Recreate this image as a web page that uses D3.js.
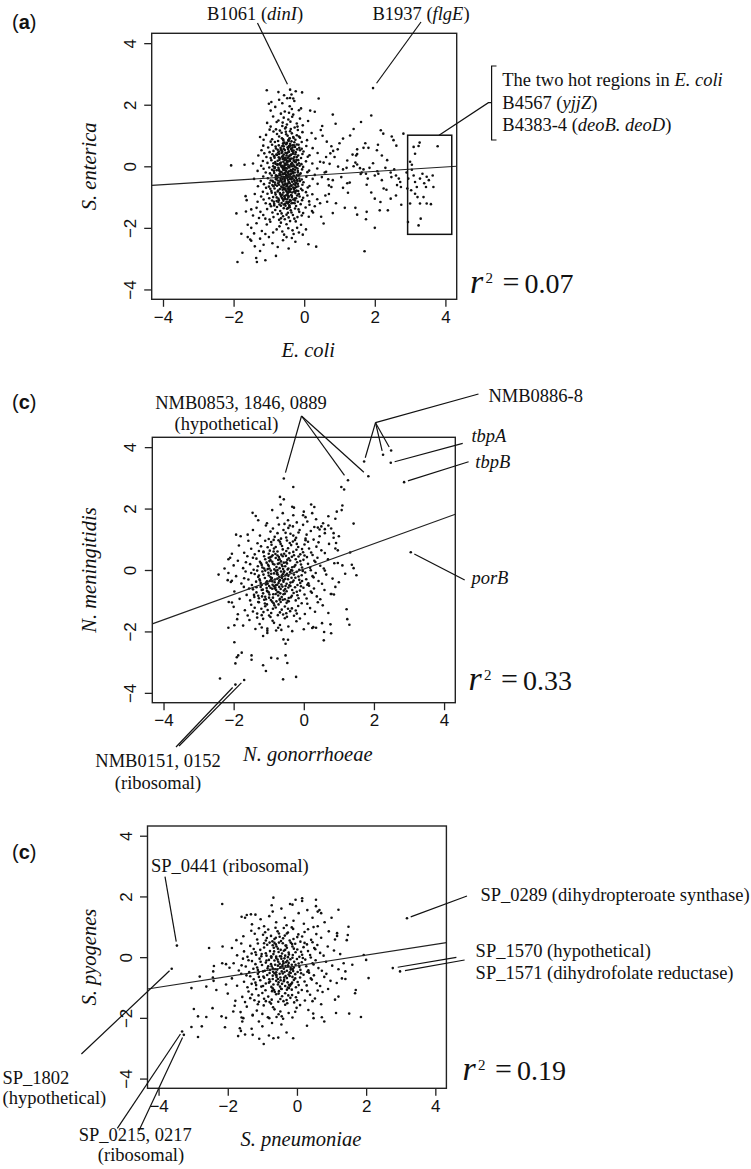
<!DOCTYPE html>
<html><head><meta charset="utf-8">
<script src="https://cdn.jsdelivr.net/npm/d3@7"></script>
<style>body{margin:0;background:#fff}svg{display:block}</style>
</head><body>
<script>
// ---------------- DATA ----------------
const tickValues = [-4, -2, 0, 2, 4];
const axisLimits = [-4.32, 4.32];
const panelLetters = ["a", "c", "c"];
const xTitles = ["E. coli", "N. gonorrhoeae", "S. pneumoniae"];
const yTitles = ["S. enterica", "N. meningitidis", "S. pyogenes"];
const r2Labels = ["0.07", "0.33", "0.19"];
const fitIntercepts = [-0.31, 0.03, -0.285];
const fitSlopes = [0.072, 0.413, 0.177];
const hotRegionBox = [2.93, 4.18, -2.21, 1.01]; // x0,x1,y0,y1

// Panel (a): E. coli vs S. enterica
const pointsEcoli = [
[-0.62,2.05],[-0.35,1.86],[-0.48,2.21],[-0.15,1.82],[-0.82,1.93],[-0.28,2.12],[-0.55,1.78],[-0.41,1.95],[-0.71,2.16],[-0.09,1.88],[-0.36,2.33],[-0.95,1.81],
[-0.45,1.52],[-0.62,1.31],[-0.31,1.68],[-0.78,1.44],[-0.52,1.27],[-0.21,1.39],[-0.88,1.62],[-0.39,1.45],[-0.66,1.71],[-0.12,1.55],[-0.49,1.36],[-0.95,1.29],[-0.27,1.26],[-0.58,1.58],[-0.04,1.33],[-0.73,1.49],[-0.34,1.61],[-1.05,1.41],[-0.43,1.74],[0.11,1.47],[-0.61,1.42],[-0.19,1.29],
[-0.52,1.12],[-0.31,0.95],[-0.77,1.05],[-0.44,0.82],[-0.63,0.91],[-0.18,1.18],[-0.91,0.88],[-0.38,1.21],[-0.56,0.77],[-0.25,0.86],[-1.08,1.02],[-0.47,0.99],[-0.69,1.16],[-0.12,0.93],[-0.83,0.79],[-0.35,1.07],[-0.59,0.84],[-0.05,1.11],[-0.98,1.19],[-0.42,0.9],[-0.71,0.97],[-0.28,0.78],[-0.54,1.23],[0.08,0.85],[-1.15,0.86],[-0.36,0.81],[-0.64,1.09],[-0.21,1.01],[-0.87,1.13],[-0.49,0.76],[-0.15,0.97],[-0.74,0.82],[0.21,1.08],[-0.4,1.14],[-0.6,0.88],[-1.25,0.95],[-0.3,0.92],[-0.95,0.8],[-0.07,0.79],[-0.51,1.04],[0.32,0.9],[-0.8,1.2],
[-0.47,0.62],[-0.32,0.41],[-0.66,0.55],[-0.21,0.71],[-0.85,0.33],[-0.53,0.28],[-0.39,0.67],[-0.74,0.45],[-0.12,0.52],[-1.02,0.61],[-0.58,0.38],[-0.28,0.3],[-0.91,0.7],[-0.44,0.49],[-0.69,0.26],[-0.05,0.4],[-0.36,0.57],[-0.8,0.58],[-0.51,0.72],[-0.17,0.35],[-1.13,0.42],[-0.62,0.47],[-0.26,0.63],[-0.95,0.27],[-0.42,0.34],[0.06,0.66],[-0.72,0.68],[-0.55,0.53],[-0.31,0.25],[-1.21,0.52],[-0.48,0.43],[-0.14,0.6],[-0.87,0.5],[-0.63,0.31],[-0.24,0.46],[0.15,0.36],[-0.4,0.73],[-0.77,0.37],[-0.58,0.65],[-1.07,0.3],[-0.34,0.5],[-0.09,0.27],[-0.67,0.6],[-0.45,0.29],[-0.98,0.46],[-0.2,0.55],[0.24,0.59],[-0.53,0.44],[-0.81,0.64],[-0.37,0.38],[-0.6,0.74],[-0.29,0.68],[-1.3,0.35],[-0.71,0.4],[-0.46,0.56],[-0.02,0.48],[-0.9,0.39],[-0.57,0.26],[-0.16,0.7],[0.38,0.43],[-0.64,0.52],[-0.43,0.66],[-0.84,0.28],[-0.25,0.39],[-1.16,0.67],[-0.5,0.35],[-0.33,0.61],[0.1,0.31],[-0.75,0.54],[-0.07,0.57],
[-0.49,0.12],[-0.31,-0.08],[-0.68,0.05],[-0.22,0.21],[-0.86,-0.15],[-0.54,-0.22],[-0.4,0.17],[-0.73,-0.05],[-0.13,0.02],[-1.04,0.11],[-0.59,-0.12],[-0.27,-0.2],[-0.93,0.2],[-0.45,-0.01],[-0.7,-0.24],[-0.06,-0.1],[-0.37,0.07],[-0.81,0.08],[-0.52,0.22],[-0.18,-0.15],[-1.15,-0.08],[-0.63,-0.03],[-0.25,0.13],[-0.97,-0.23],[-0.43,-0.16],[0.05,0.16],[-0.75,0.18],[-0.56,0.03],[-0.32,-0.19],[-1.22,0.02],[-0.48,-0.07],[-0.15,0.1],[-0.88,0.0],[-0.64,-0.19],[-0.23,-0.04],[0.14,-0.14],[-0.41,0.23],[-0.78,-0.13],[-0.59,0.15],[-1.09,-0.2],[-0.35,0.0],[-0.1,-0.23],[-0.68,0.1],[-0.46,-0.21],[-0.99,-0.04],[-0.2,0.05],[0.23,0.09],[-0.54,-0.06],[-0.82,0.14],[-0.38,-0.12],[-0.61,0.24],[-0.29,0.18],[-1.32,-0.15],[-0.72,-0.1],[-0.47,0.06],[-0.03,-0.02],[-0.91,-0.11],[-0.58,-0.24],[-0.17,0.2],[0.37,-0.07],[-0.65,0.01],[-0.44,0.16],[-0.85,-0.22],[-0.26,-0.11],[-1.17,0.17],[-0.51,-0.15],[-0.34,0.11],[0.09,-0.19],[-0.76,0.04],[-0.08,0.07],[-0.42,-0.04],[-0.6,-0.09],[-0.3,0.03],[-0.5,0.19],[-0.7,0.21],[-0.19,-0.07],[0.45,0.15],[-1.45,0.09],[-0.83,-0.03],[-0.37,-0.24],[-0.55,0.09],[0.62,-0.18],
[-0.48,-0.38],[-0.3,-0.58],[-0.67,-0.45],[-0.21,-0.29],[-0.87,-0.65],[-0.53,-0.72],[-0.39,-0.33],[-0.74,-0.55],[-0.12,-0.48],[-1.03,-0.39],[-0.58,-0.62],[-0.26,-0.7],[-0.92,-0.3],[-0.44,-0.51],[-0.69,-0.74],[-0.05,-0.6],[-0.36,-0.43],[-0.8,-0.42],[-0.51,-0.28],[-0.17,-0.65],[-1.14,-0.58],[-0.62,-0.53],[-0.24,-0.37],[-0.96,-0.73],[-0.42,-0.66],[0.06,-0.34],[-0.76,-0.32],[-0.55,-0.47],[-0.31,-0.69],[-1.23,-0.48],[-0.47,-0.57],[-0.14,-0.4],[-0.88,-0.5],[-0.63,-0.69],[-0.23,-0.54],[0.15,-0.64],[-0.4,-0.27],[-0.77,-0.63],[-0.58,-0.35],[-1.08,-0.7],[-0.34,-0.5],[-0.09,-0.73],[-0.67,-0.4],[-0.45,-0.71],[-0.98,-0.54],[-0.2,-0.45],[0.24,-0.41],[-0.53,-0.56],[-0.81,-0.36],[-0.37,-0.62],[-0.6,-0.26],[-0.29,-0.32],[-1.31,-0.65],[-0.71,-0.6],[-0.46,-0.44],[-0.02,-0.52],[-0.9,-0.61],[-0.57,-0.74],[-0.16,-0.3],[0.38,-0.57],[-0.64,-0.48],[-0.43,-0.34],[-0.84,-0.72],[-0.25,-0.61],[-1.16,-0.33],[-0.5,-0.65],[-0.33,-0.39],[0.1,-0.69],[-0.75,-0.46],[-0.07,-0.43],[-0.41,-0.55],[-0.6,-0.59],[-0.28,-0.47],[-0.5,-0.31],[-0.7,-0.29],[-0.18,-0.57],[0.5,-0.35],[-1.42,-0.41],[-0.83,-0.53],[-0.37,-0.74],[-0.55,-0.41],[0.7,-0.62],[-0.95,-0.46],[0.3,-0.28],[-1.0,-0.66],
[-0.47,-0.88],[-0.31,-1.08],[-0.66,-0.95],[-0.22,-0.79],[-0.86,-1.15],[-0.54,-1.22],[-0.4,-0.83],[-0.73,-1.05],[-0.13,-0.98],[-1.04,-0.89],[-0.59,-1.12],[-0.27,-1.2],[-0.93,-0.8],[-0.45,-1.01],[-0.7,-1.24],[-0.06,-1.1],[-0.37,-0.93],[-0.81,-0.92],[-0.52,-0.78],[-0.18,-1.15],[-1.15,-1.08],[-0.63,-1.03],[-0.25,-0.87],[-0.97,-1.23],[-0.43,-1.16],[0.05,-0.84],[-0.75,-0.82],[-0.56,-0.97],[-0.32,-1.19],[-1.22,-0.98],[-0.48,-1.07],[-0.15,-0.9],[-0.88,-1.0],[-0.64,-1.19],[-0.23,-1.04],[0.14,-1.14],[-0.41,-0.77],[-0.78,-1.13],[-0.59,-0.85],[-1.09,-1.2],[-0.35,-1.0],[-0.1,-1.23],[-0.68,-0.9],[-0.46,-1.21],[-0.99,-1.04],[-0.2,-0.95],[0.23,-0.91],[-0.54,-1.06],[-0.82,-0.86],[-0.38,-1.12],[-0.61,-0.76],[-0.29,-0.82],[-1.32,-1.15],[-0.72,-1.1],[-0.47,-0.94],[-0.03,-1.02],[-0.91,-1.11],[-0.58,-1.24],[-0.17,-0.8],[0.37,-1.07],[-0.65,-0.98],[-0.44,-0.84],[-0.85,-1.22],[-0.26,-1.11],[-1.17,-0.83],[-0.5,-1.15],[0.6,-0.95],[-1.4,-0.9],[0.45,-1.2],[-0.05,-0.78],
[-0.49,-1.38],[-0.32,-1.58],[-0.68,-1.45],[-0.23,-1.29],[-0.87,-1.65],[-0.55,-1.72],[-0.41,-1.33],[-0.75,-1.55],[-0.14,-1.48],[-1.05,-1.39],[-0.6,-1.62],[-0.28,-1.7],[-0.94,-1.3],[-0.46,-1.51],[-0.71,-1.74],[-0.07,-1.6],[-0.38,-1.43],[-0.82,-1.42],[-0.53,-1.28],[-0.19,-1.65],[-1.16,-1.58],[-0.64,-1.53],[-0.26,-1.37],[-0.98,-1.73],[-0.44,-1.66],[0.04,-1.34],[-0.77,-1.32],[-1.24,-1.48],[-0.5,-1.57],[-0.16,-1.4],[-0.9,-1.5],[-0.66,-1.69],[0.13,-1.64],[-0.42,-1.27],[-1.1,-1.7],[-0.36,-1.5],[-1.35,-1.35],[-1.45,-1.6],[0.22,-1.45],[-0.58,-1.36],[-0.85,-1.27],[-1.28,-1.68],[-0.03,-1.52],[-1.5,-1.4],[0.3,-1.3],
[-0.5,-1.88],[-0.33,-2.08],[-0.7,-1.95],[-0.24,-1.79],[-0.88,-2.15],[-0.57,-2.22],[-1.06,-1.89],[-0.62,-2.12],[-0.3,-2.2],[-0.96,-1.8],[-0.45,-2.01],[-1.2,-2.1],[-0.09,-1.9],[-1.35,-1.85],[-0.78,-2.05],[-0.15,-2.15],[-1.5,-2.0],[-1.1,-2.2],[-0.4,-1.78],[-1.6,-1.9],[-0.66,-1.83],[0.05,-2.05],[-1.42,-2.18],[-0.2,-2.0],
[-1.25,-2.35],[-0.9,-2.5],[-1.5,-2.42],[-0.6,-2.4],[-1.0,-2.3],[-0.25,-2.45],[-1.4,-2.6],[-0.75,-2.62],[-1.15,-2.55],[-0.5,-2.3],[-1.6,-2.3],[-0.35,-2.33],
[-0.44,-0.27],[-0.52,0.05],[-0.36,-0.63],[-0.61,-0.41],[-0.29,0.19],[-0.47,-0.85],[-0.68,-0.18],[-0.39,0.36],[-0.55,-1.02],[-0.23,-0.38],[-0.72,0.29],[-0.43,-0.5],[-0.33,-0.12],[-0.58,0.57],[-0.49,-1.18],[-0.26,-0.81],[-0.65,-0.66],[-0.41,0.02],[-0.8,-0.29],[-0.35,-0.96],[-0.5,0.42],[-0.62,-0.92],[-0.18,-0.2],[-0.46,-0.34],[-0.74,-0.79],[-0.3,0.51],[-0.57,-0.24],[-0.4,-1.1],[-0.66,0.12],[-0.22,-0.67],[-0.53,-0.58],[-0.37,0.25],[-0.84,-0.06],[-0.45,-0.76],[-0.28,-0.45],[-0.6,0.33],[-0.5,-0.3],[-0.7,-0.5],[-0.32,-0.22],[-0.42,0.62],[-0.55,-0.13],[-0.2,0.06],[-0.78,-1.01],[-0.48,0.16],[-0.64,-0.33],[-0.34,-0.85],[-0.59,0.74],[-0.27,-1.05],[-0.71,0.48],[-0.44,-0.97],
[-0.38,-0.16],[-0.56,-0.49],[-0.31,0.44],[-0.69,-0.87],[-0.47,0.27],[-0.25,-0.53],[-0.63,0.02],[-0.42,-1.29],[-0.76,-0.38],[-0.34,0.09],[-0.58,-0.7],[-0.21,0.3],[-0.51,-0.94],[-0.87,0.1],[-0.4,-0.41],[-0.62,0.66],[-0.3,-0.3],[-0.73,-1.16],[-0.45,0.85],[-0.16,-0.9],[-0.54,-0.35],[-0.36,-1.2],[-0.67,-0.27],[-0.43,0.47],[-0.79,0.38],[-0.27,-0.01],[-0.6,-1.07],[-0.49,-0.63],[-0.33,0.68],[-0.9,-0.47],[-0.52,-0.06],[-0.39,-0.72],[-0.71,-0.14],[-0.24,0.15],[-0.56,0.21],[-0.46,-1.36],[-0.82,-0.6],[-0.35,-0.35],[-0.64,0.43],[-0.19,-0.48],[-0.5,-0.82],[-0.41,0.91],[-0.75,0.07],[-0.29,-0.74],[-0.57,-0.02],[-0.66,-1.28],[-0.37,0.55],[-0.47,-0.2],[-0.92,-0.86],[-0.13,-0.27],
[-2.07,0.03],[-1.69,0.05],[-1.89,-3.11],[-1.75,-2.81],[-1.34,-3.11],[-1.36,-2.98],[-1.25,-2.75],[-1.1,-3.05],[-0.8,-2.91],[-0.44,-2.67],[0.34,-2.61],[0.12,-2.53],[-0.04,-2.22],[-1.78,-2.19],[-1.92,-1.53],[-1.65,-1.47],[-1.66,-0.97],[-1.63,-1.1],[-1.53,-2.38],
[-1.06,2.47],[-0.73,2.41],[-0.40,2.49],[-0.24,2.44],[-0.06,2.4],[-0.57,2.31],[0.41,2.2],[-0.4,2.22],[-0.31,2.2],[-1.0,2.03],[-0.93,2.09],[0.17,1.81],[0.3,1.77],
[1.95,2.54],
[0.81,1.68],[0.89,1.38],[1.61,1.44],[1.9,1.65],[1.4,1.21],[2.17,1.17],[2.24,1.06],[2.48,0.97],[2.81,1.06],[2.53,0.85],[2.61,0.67],[2.09,0.7],[2.06,0.52],[1.73,0.75],[1.82,0.6],[1.68,0.6],[1.5,0.55],[1.5,0.4],[1.37,0.38],[1.47,0.35],[1.22,0.19],[1.1,0.9],[0.51,1.31],[0.47,1.18],[0.52,0.99],[0.64,0.8],[0.77,0.65],[0.82,0.5],[0.74,0.42],[0.86,0.3],[0.62,0.3],[1.4,0.0],[1.45,0.12],[1.5,0.06],[1.58,-0.06],[1.63,-0.2],[1.68,-0.1],[1.6,-0.25],[1.75,-0.24],[1.8,-0.4],[1.77,-0.6],[2.1,-0.24],[2.0,-0.3],[2.07,-0.16],[2.2,-0.45],[2.25,-0.72],[2.33,-0.76],[2.0,-1.05],[2.16,-1.16],[2.37,-1.43],[2.14,-1.43],[2.0,-2.0],[1.71,-2.76],[1.45,-1.35],[1.5,-1.57],[1.75,-1.72],[1.77,-1.48],[1.1,-0.7],[1.24,-0.86],[1.29,-0.53],[1.05,-0.35],[1.22,-0.55],[0.81,-1.52],[0.55,-1.86],[0.48,-1.64],[0.25,-1.5],[0.15,-1.25],[0.09,-0.95],[0.77,-0.67],[0.81,-0.45],[1.1,-0.1],[0.96,-0.01],[1.2,-0.05],[2.6,-0.3],[2.68,-0.4],[2.72,-0.51],[2.63,-0.61],[2.74,-0.67],[2.9,-0.2],[2.95,-0.4],[2.92,-0.72],[2.3,-0.05],[2.45,-0.2],[2.47,-0.35],[2.55,-0.1],[2.35,0.2],[2.2,0.35],[1.95,0.1],[1.85,-0.05],[0.95,0.55],[1.0,0.75],[1.3,1.0],[1.9,-0.85],[2.45,-1.05],[2.6,-0.95],[2.75,-1.25],[1.15,-1.35],[0.65,-1.15],[0.7,-0.9],[0.9,-1.2],[0.58,-0.2],[0.72,0.08],[0.55,0.12],[0.68,-0.42],
[3.1,0.63],[3.24,0.66],[3.27,0.77],[3.14,0.41],[3.78,0.65],[3.05,-0.11],[3.1,-0.3],[3.14,-0.51],[3.19,-0.67],[3.28,-0.4],[3.35,-0.24],[3.47,-0.34],[3.64,-0.3],[3.45,-0.67],[3.66,-0.67],[3.14,-0.89],[3.21,-1.0],[3.28,-1.21],[3.47,-1.21],[3.59,-1.23],[3.3,-1.7],[3.24,-1.92],[3.0,-1.21],[2.94,-1.81],[3.03,-0.78],[3.0,0.15],[3.05,0.05],[3.4,-0.55],[3.53,-0.45],[3.38,-1.0]
];

// Panel (c): N. gonorrhoeae vs N. meningitidis
const pointsNeisseria = [
[-0.45,1.62],[-0.2,1.55],[-0.75,1.7],[0.1,1.58],[-1.05,1.52],[-0.6,1.85],[0.35,1.65],[-0.3,1.78],[-1.3,1.62],[0.55,1.52],[-0.9,1.95],[0.0,1.9],[-0.55,1.5],[0.7,1.75],
[-0.52,1.21],[-0.31,1.42],[-0.83,1.08],[-0.12,1.3],[-1.08,1.45],[-0.65,1.02],[0.08,1.15],[-0.44,1.37],[-0.95,1.25],[-0.22,1.05],[0.3,1.4],[-0.71,1.48],[-1.25,1.12],[-0.38,1.18],[-0.02,1.47],[-0.58,1.3],[0.45,1.1],[-0.88,1.35],[-0.15,1.22],[-1.45,1.3],[0.2,1.27],[-0.5,1.06],[-1.0,1.01],[0.6,1.33],[-0.3,1.12],[-0.75,1.2],[0.05,1.02],[-1.6,1.15],[0.85,1.2],[-0.4,1.45],
[-0.62,0.78],[-0.41,0.55],[-0.93,0.91],[-0.21,0.66],[-1.15,0.58],[-0.72,0.97],[0.02,0.83],[-0.5,0.62],[-1.03,0.74],[-0.31,0.93],[0.21,0.57],[-0.81,0.52],[-1.32,0.87],[-0.45,0.71],[-0.1,0.51],[-0.66,0.85],[0.36,0.76],[-0.97,0.63],[-0.25,0.98],[-1.5,0.69],[0.12,0.92],[-0.56,0.53],[-1.1,0.95],[0.5,0.64],[-0.36,0.81],[-0.85,0.7],[-0.05,0.68],[-1.7,0.56],[0.72,0.85],[-0.48,0.96],[-0.75,0.6],[-0.16,0.75],[-1.22,0.77],[0.28,0.99],[-0.6,0.67],[-0.92,0.82],[-0.02,0.58],[-1.4,0.51],[0.42,0.9],[-0.3,0.59],[-1.0,0.53],[-0.68,0.92],[0.15,0.7],[-1.85,0.8],[-0.4,0.88],[0.6,0.55],[-0.86,0.98],[-0.2,0.85],[-1.58,0.95],[0.9,0.7],[-1.28,0.62],[0.05,0.97],
[-0.65,0.28],[-0.44,0.05],[-0.96,0.41],[-0.24,0.16],[-1.18,0.08],[-0.75,0.47],[-0.01,0.33],[-0.53,0.12],[-1.06,0.24],[-0.34,0.43],[0.18,0.07],[-0.84,0.02],[-1.35,0.37],[-0.48,0.21],[-0.13,0.01],[-0.69,0.35],[0.33,0.26],[-1.0,0.13],[-0.28,0.48],[-1.53,0.19],[0.09,0.42],[-0.59,0.03],[-1.13,0.45],[0.47,0.14],[-0.39,0.31],[-0.88,0.2],[-0.08,0.18],[-1.73,0.06],[0.69,0.35],[-0.51,0.46],[-0.78,0.1],[-0.19,0.25],[-1.25,0.27],[0.25,0.49],[-0.63,0.17],[-0.95,0.32],[-0.05,0.08],[-1.43,0.01],[0.39,0.4],[-0.33,0.09],[-1.03,0.03],[-0.71,0.42],[0.12,0.2],[-1.88,0.3],[-0.43,0.38],[0.57,0.05],[-0.89,0.48],[-0.23,0.35],[-1.61,0.45],[0.87,0.22],[-1.31,0.12],[0.02,0.47],[-0.57,0.24],[-0.8,0.39],[-1.2,0.16],[-0.36,0.0],[-0.15,0.44],[-0.98,0.05],[-0.7,0.22],[-0.47,0.33],[-1.1,0.35],[-2.0,0.15],[-0.27,0.11],[0.3,0.3],[-0.6,0.45],[-0.9,0.27],[-1.45,0.4],[-0.1,0.29],[-0.75,0.0],[-1.65,0.25],[1.1,0.15],[-2.1,0.4],
[-0.7,-0.22],[-0.49,-0.45],[-1.01,-0.09],[-0.29,-0.34],[-1.23,-0.42],[-0.8,-0.03],[-0.06,-0.17],[-0.58,-0.38],[-1.11,-0.26],[-0.39,-0.07],[0.13,-0.43],[-0.89,-0.48],[-1.4,-0.13],[-0.53,-0.29],[-0.18,-0.49],[-0.74,-0.15],[0.28,-0.24],[-1.05,-0.37],[-0.33,-0.02],[-1.58,-0.31],[0.04,-0.08],[-0.64,-0.47],[-1.18,-0.05],[0.42,-0.36],[-0.44,-0.19],[-0.93,-0.3],[-0.13,-0.32],[-1.78,-0.44],[0.64,-0.15],[-0.56,-0.04],[-0.83,-0.4],[-0.24,-0.25],[-1.3,-0.23],[0.2,-0.01],[-0.68,-0.33],[-1.0,-0.18],[-0.1,-0.42],[-1.48,-0.49],[0.34,-0.1],[-0.38,-0.41],[-1.08,-0.47],[-0.76,-0.08],[0.07,-0.3],[-1.93,-0.2],[-0.48,-0.12],[0.52,-0.45],[-0.94,-0.02],[-0.28,-0.15],[-1.66,-0.05],[0.82,-0.28],[-1.36,-0.38],[-0.03,-0.03],[-0.62,-0.26],[-0.85,-0.11],[-1.25,-0.34],[-0.41,-0.5],[-0.2,-0.06],[-1.03,-0.45],[-0.75,-0.28],[-0.52,-0.17],[-1.15,-0.15],[-2.05,-0.35],[-0.32,-0.39],[0.25,-0.2],[-0.65,-0.05],[-0.95,-0.23],[-1.5,-0.1],[-0.15,-0.21],[-0.8,-0.5],[-1.7,-0.27],[1.0,-0.4],[-2.15,-0.1],[-0.9,-0.37],[-0.45,-0.3],[-0.6,-0.14],[-1.2,-0.49],[-0.35,-0.25],[0.1,-0.48],[-0.72,-0.42],[-1.33,-0.02],[0.6,-0.02],[-0.05,-0.36],
[-0.75,-0.72],[-0.54,-0.95],[-1.06,-0.59],[-0.34,-0.84],[-1.28,-0.92],[-0.85,-0.53],[-0.11,-0.67],[-0.63,-0.88],[-1.16,-0.76],[-0.44,-0.57],[0.08,-0.93],[-0.94,-0.98],[-1.45,-0.63],[-0.58,-0.79],[-0.23,-0.99],[-0.79,-0.65],[0.23,-0.74],[-1.1,-0.87],[-0.38,-0.52],[-1.63,-0.81],[-0.01,-0.58],[-0.69,-0.97],[-1.23,-0.55],[0.37,-0.86],[-0.49,-0.69],[-0.98,-0.8],[-0.18,-0.82],[-1.83,-0.94],[0.59,-0.65],[-0.61,-0.54],[-0.88,-0.9],[-0.29,-0.75],[-1.35,-0.73],[0.15,-0.51],[-0.73,-0.83],[-1.05,-0.68],[-0.15,-0.92],[-1.53,-0.99],[0.29,-0.6],[-0.43,-0.91],[-1.13,-0.97],[-0.81,-0.58],[0.02,-0.8],[-1.98,-0.7],[-0.53,-0.62],[0.47,-0.95],[-0.99,-0.52],[-0.33,-0.65],[-1.71,-0.55],[0.77,-0.78],[-1.41,-0.88],[-0.08,-0.53],[-0.67,-0.76],[-0.9,-0.61],[-1.3,-0.84],[-0.46,-1.0],[-0.25,-0.56],[-1.08,-0.95],[-0.8,-0.78],[-0.57,-0.67],[-1.2,-0.65],[-0.37,-0.89],[0.2,-0.7],[-0.7,-0.55],[-1.0,-0.73],[-1.56,-0.6],[-0.2,-0.71],[0.9,-0.55],
[-0.8,-1.22],[-0.59,-1.45],[-1.11,-1.09],[-0.39,-1.34],[-1.33,-1.42],[-0.9,-1.03],[-0.16,-1.17],[-0.68,-1.38],[-1.21,-1.26],[-0.49,-1.07],[0.03,-1.43],[-0.99,-1.48],[-1.5,-1.13],[-0.63,-1.29],[-0.28,-1.49],[-0.84,-1.15],[0.18,-1.24],[-1.15,-1.37],[-0.43,-1.02],[-1.68,-1.31],[-0.06,-1.08],[-0.74,-1.47],[-1.28,-1.05],[0.32,-1.36],[-0.54,-1.19],[-1.03,-1.3],[-0.23,-1.32],[-1.88,-1.44],[0.54,-1.15],[-0.66,-1.04],[-0.93,-1.4],[-0.34,-1.25],[-1.4,-1.23],[-1.1,-1.18],[-0.2,-1.42],[-1.6,-1.48],[0.1,-1.1],[-0.5,-1.41],[-1.2,-1.47],[-0.86,-1.08],[0.4,-1.05],[-2.0,-1.2],[-0.45,-1.26],[-0.72,-1.12],[-1.45,-1.35],[0.7,-1.4],
[-0.85,-1.72],[-0.64,-1.95],[-1.16,-1.59],[-0.44,-1.84],[-1.38,-1.92],[-0.95,-1.53],[-0.21,-1.67],[-0.73,-1.88],[-1.26,-1.76],[-0.54,-1.57],[-1.04,-1.98],[-1.55,-1.63],[-0.68,-1.79],[-0.33,-1.99],[-0.89,-1.65],[0.13,-1.74],[-1.2,-1.87],[-0.48,-1.52],[-1.73,-1.81],[-0.11,-1.58],[-0.79,-1.97],[-1.33,-1.55],[0.27,-1.86],[-1.9,-1.6],
[-0.82,-0.31],[-1.02,0.17],[-0.66,-0.62],[-0.93,-0.12],[-1.17,-0.64],[-0.73,0.33],[-0.99,-0.9],[-0.57,-0.08],[-1.28,-0.18],[-0.86,0.6],[-0.78,-1.02],[-1.07,-0.41],[-0.61,0.12],[-0.95,-0.58],[-1.22,0.22],[-0.7,-0.36],[-0.87,-0.79],[-1.13,0.05],[-0.52,-0.52],[-1.0,0.4],[-0.77,-0.13],[-1.35,-0.56],[-0.64,0.5],[-0.91,-0.26],[-1.19,-0.86],[-0.46,0.02],[-0.84,0.18],[-1.05,-1.12],[-0.72,-0.72],[-0.98,0.29],[-0.58,-0.33],[-1.26,-0.3],[-0.8,0.75],[-0.68,-0.94],[-1.1,-0.02],[-0.54,-0.77],[-0.92,0.44],[-0.76,-0.48],[-1.42,-0.81],[-0.63,-0.19],[-0.88,-1.26],[-1.15,0.6],[-0.5,0.25],[-0.97,-0.36],[-0.69,0.06],[-1.3,-1.04],[-0.83,-0.6],[-0.6,-0.97],[-1.03,-0.7],[-0.74,0.2],
[-0.57,2.98],[-0.30,2.70],[1.07,2.70],[1.15,2.62],[1.26,2.92],[1.84,3.05],[1.72,3.53],[2.26,3.75],[2.49,3.89],[2.48,3.49],[2.86,2.86],[3.05,0.58],[-0.68,2.38],[-0.57,2.30],[-0.66,2.13],[-0.28,2.03],[-0.33,2.06],[0.21,2.13],[0.30,2.05],[1.10,2.10],[1.08,1.95],[0.94,1.90],[0.90,1.67],[1.42,1.51],[-1.46,1.86],[-1.37,1.76],[-1.93,1.15],[-1.80,1.10],[-2.05,0.53],[-2.15,0.35],[-2.26,0.05],[-2.43,-0.15],[-2.17,-0.33],[-2.08,-0.39],[-2.14,-1.04],[-2.05,-1.06],[-2.15,-1.88],[-1.98,-1.80],[-1.98,-2.35],[-1.87,-2.78],[-1.91,-2.84],[-1.77,-2.69],[-1.95,-3.04],[-1.49,-2.78],[-1.49,-2.92],[-1.16,-3.1],[-1.08,-3.29],[-0.93,-2.86],[-0.75,-2.88],[-0.52,-2.78],[-0.47,-3.03],[-0.59,-3.56],[-0.22,-3.48],[-2.39,-3.53],[-1.95,-3.73],[-1.70,-3.58],[-0.58,-2.26],[-0.52,-2.4],[-0.45,-2.27],[-1.04,-1.91],[-1.04,-2.05],[-1.16,-2.15],[0.0,-1.93],[0.24,-1.89],[0.35,-1.88],[0.57,-2.29],[0.58,-2.02],[0.78,-2.06],[0.76,-1.77],[0.52,-1.73],[1.22,-1.28],[1.30,-1.78],[1.24,-1.6],[1.18,-0.12],[1.37,0.17],[1.50,-0.17],[1.42,0.06],[0.97,0.64],[0.97,0.23],[1.32,0.57],[0.86,-0.8],[0.79,-0.78],[0.92,0.88],[1.0,1.1],[0.85,1.05],[0.7,1.45],[0.6,1.2],[0.78,1.35],[0.4,1.38],[0.45,1.32],[0.5,1.42],[-0.02,1.78],[0.24,1.85],[0.05,1.72]
];

// Panel (c, bottom): S. pneumoniae vs S. pyogenes
const pointsStrep = [
[-0.6,1.15],[-0.3,1.05],[-1.05,1.25],[0.2,1.1],[-0.8,1.35],[0.45,1.3],[-0.1,1.2],[-1.3,1.08],[0.05,1.45],[-0.45,1.6],[0.6,1.02],[-1.5,1.3],[-0.2,1.75],[0.3,1.55],[-0.95,1.02],[0.8,1.15],[-0.7,1.5],[0.15,1.85],[-1.2,1.4],[-0.35,1.3],[1.0,1.3],[0.55,1.68],
[-0.52,0.78],[-0.21,0.55],[-0.83,0.91],[0.01,0.66],[-1.15,0.58],[-0.62,0.97],[0.22,0.83],[-0.4,0.62],[-0.98,0.74],[-0.11,0.93],[0.41,0.57],[-0.71,0.52],[-1.32,0.87],[-0.35,0.71],[0.1,0.51],[-0.56,0.85],[0.56,0.76],[-0.87,0.63],[-0.15,0.98],[-1.55,0.69],[0.32,0.92],[-0.46,0.53],[-1.1,0.95],[0.7,0.64],[-0.26,0.81],[-0.75,0.7],[0.15,0.68],[-1.75,0.56],[0.92,0.85],[-0.38,0.96],[-0.65,0.6],[0.04,0.75],[-1.22,0.77],[0.48,0.99],[-0.5,0.67],[-0.92,0.82],[1.1,0.58],[-0.1,0.6],
[-0.55,0.28],[-0.34,0.05],[-0.86,0.41],[-0.04,0.16],[-1.18,0.08],[-0.65,0.47],[0.19,0.33],[-0.43,0.12],[-1.06,0.24],[-0.14,0.43],[0.38,0.07],[-0.74,0.02],[-1.35,0.37],[-0.38,0.21],[0.07,0.01],[-0.59,0.35],[0.53,0.26],[-0.9,0.13],[-0.18,0.48],[-1.53,0.19],[0.29,0.42],[-0.49,0.03],[-1.13,0.45],[0.67,0.14],[-0.29,0.31],[-0.78,0.2],[0.12,0.18],[-1.73,0.06],[0.89,0.35],[-0.41,0.46],[-0.68,0.1],[0.01,0.25],[-1.25,0.27],[0.45,0.49],[-0.53,0.17],[-0.95,0.32],[0.15,0.08],[-1.43,0.01],[0.59,0.4],[-0.23,0.09],[-1.03,0.03],[-0.61,0.42],[0.32,0.2],[-1.88,0.3],[-0.33,0.38],[0.77,0.05],[-0.79,0.48],[-0.13,0.35],[-1.61,0.45],[1.07,0.22],[-1.31,0.12],[0.22,0.47],[-0.47,0.24],[-0.7,0.39],[-1.2,0.16],[-0.26,0.0],[-0.05,0.44],[-0.88,0.05],[1.25,0.1],[0.5,0.3],[-0.6,0.02],[-0.95,0.46],
[-0.5,-0.22],[-0.29,-0.45],[-0.81,-0.09],[-0.09,-0.34],[-1.13,-0.42],[-0.6,-0.03],[0.14,-0.17],[-0.38,-0.38],[-1.01,-0.26],[-0.19,-0.07],[0.33,-0.43],[-0.69,-0.48],[-1.3,-0.13],[-0.33,-0.29],[0.02,-0.49],[-0.54,-0.15],[0.48,-0.24],[-0.85,-0.37],[-0.13,-0.02],[-1.48,-0.31],[0.24,-0.08],[-0.44,-0.47],[-1.08,-0.05],[0.62,-0.36],[-0.24,-0.19],[-0.73,-0.3],[0.07,-0.32],[-1.68,-0.44],[0.84,-0.15],[-0.36,-0.04],[-0.63,-0.4],[-0.04,-0.25],[-1.2,-0.23],[0.4,-0.01],[-0.48,-0.33],[-0.9,-0.18],[0.1,-0.42],[-1.38,-0.49],[0.54,-0.1],[-0.18,-0.41],[-0.98,-0.47],[-0.56,-0.08],[0.27,-0.3],[-1.83,-0.2],[-0.28,-0.12],[0.72,-0.45],[-0.74,-0.02],[-0.08,-0.15],[-1.56,-0.05],[1.02,-0.28],[-1.26,-0.38],[0.17,-0.03],[-0.42,-0.26],[-0.65,-0.11],[-1.15,-0.34],[-0.21,-0.5],[0.0,-0.06],[-0.93,-0.45],[-0.55,-0.28],[-0.32,-0.17],[-1.05,-0.15],[-1.95,-0.35],[-0.12,-0.39],[0.45,-0.2],[-0.45,-0.05],[-0.75,-0.23],[-1.4,-0.1],[0.05,-0.21],[-0.6,-0.5],[-1.6,-0.27],[1.2,-0.4],[-0.7,-0.37],[-0.25,-0.3],[-0.4,-0.14],[-1.1,-0.49],[-0.15,-0.25],[0.3,-0.48],[1.35,-0.2],
[-0.55,-0.72],[-0.34,-0.95],[-0.86,-0.59],[-0.14,-0.84],[-1.18,-0.92],[-0.65,-0.53],[0.09,-0.67],[-0.43,-0.88],[-1.06,-0.76],[-0.24,-0.57],[0.28,-0.93],[-0.74,-0.98],[-1.35,-0.63],[-0.38,-0.79],[-0.03,-0.99],[-0.59,-0.65],[0.43,-0.74],[-0.9,-0.87],[-0.18,-0.52],[-1.53,-0.81],[0.19,-0.58],[-0.49,-0.97],[-1.13,-0.55],[0.57,-0.86],[-0.29,-0.69],[-0.78,-0.8],[0.02,-0.82],[-1.73,-0.94],[0.79,-0.65],[-0.41,-0.54],[-0.68,-0.9],[-0.09,-0.75],[-1.25,-0.73],[0.35,-0.51],[-0.53,-0.83],[-0.95,-0.68],[0.05,-0.92],[-1.43,-0.99],[0.49,-0.6],[-0.23,-0.91],[-1.03,-0.97],[-0.61,-0.58],[0.22,-0.8],[-1.88,-0.7],[-0.33,-0.62],[0.67,-0.95],[-0.79,-0.52],[-0.13,-0.65],[-1.61,-0.55],[0.97,-0.78],[-1.31,-0.88],[0.12,-0.53],[-0.47,-0.76],[-0.7,-0.61],[-1.2,-0.84],[-0.26,-1.0],[-0.05,-0.56],[-0.98,-0.95],[-0.6,-0.78],[-0.37,-0.67],[-1.1,-0.65],[-0.17,-0.89],[0.4,-0.7],[-0.5,-0.55],[-0.8,-0.73],[-1.46,-0.6],[1.15,-0.85],[-2.05,-0.9],[0.85,-0.55],[1.3,-0.7],
[-0.6,-1.22],[-0.39,-1.45],[-0.91,-1.09],[-0.19,-1.34],[-1.23,-1.42],[-0.7,-1.03],[0.04,-1.17],[-0.48,-1.38],[-1.11,-1.26],[-0.29,-1.07],[0.23,-1.43],[-0.79,-1.48],[-1.4,-1.13],[-0.43,-1.29],[-0.08,-1.49],[-0.64,-1.15],[0.38,-1.24],[-0.95,-1.37],[-0.23,-1.02],[-1.58,-1.31],[0.14,-1.08],[-0.54,-1.47],[-1.18,-1.05],[0.52,-1.36],[-0.34,-1.19],[-0.83,-1.3],[-0.03,-1.32],[-1.78,-1.44],[0.74,-1.15],[-0.46,-1.04],[-0.73,-1.4],[-0.14,-1.25],[-1.3,-1.23],[0.3,-1.12],[-1.0,-1.18],[0.0,-1.42],[-1.5,-1.48],[0.6,-1.1],[-0.3,-1.41],[-1.1,-1.47],[-0.66,-1.08],[0.9,-1.05],[-2.0,-1.2],[-0.25,-1.26],[-0.52,-1.12],[-1.35,-1.35],[1.1,-1.4],[0.45,-1.45],[1.2,-1.3],[-0.9,-1.45],
[-0.65,-1.72],[-0.44,-1.95],[-0.96,-1.59],[-0.24,-1.84],[-1.28,-1.92],[-0.75,-1.53],[-0.01,-1.67],[-0.53,-1.88],[-1.16,-1.76],[-0.34,-1.57],[-0.84,-1.98],[-1.45,-1.63],[-0.48,-1.79],[-0.13,-1.99],[-0.69,-1.65],[0.33,-1.74],[-1.0,-1.87],[-0.28,-1.52],[-1.63,-1.81],[0.09,-1.58],[-0.59,-1.97],[-1.13,-1.55],[0.47,-1.86],[-1.8,-1.6],[0.7,-1.55],[-0.05,-1.8],
[-0.42,-0.31],[-0.66,0.19],[-0.21,-0.62],[-0.55,-0.9],[-0.31,0.38],[-0.78,-0.42],[-0.12,0.07],[-0.48,-0.67],[-0.88,-0.11],[-0.27,-0.83],[-0.61,0.64],[-0.39,-0.2],[-0.05,-0.7],[-0.72,-1.12],[-0.34,0.24],[-0.97,-0.64],[-0.18,-0.36],[-0.52,0.48],[-0.81,-0.84],[-0.24,0.15],[-0.63,-0.25],[-0.44,-1.05],[-0.09,0.28],[-0.7,-0.72],[-0.36,-0.49],[-1.02,0.1],[-0.15,-1.07],[-0.57,-0.41],[-0.29,0.78],[-0.83,-0.3],[-0.46,0.03],[-0.2,-0.94],[-0.67,0.31],[-0.53,-1.2],[-0.11,-0.46],[-0.9,0.55],[-0.37,-0.75],[-0.75,0.02],[-0.26,-0.27],[-0.59,-0.59],
[-2.16,1.75],[-0.68,1.96],[-0.04,1.89],[0.15,1.94],[-0.13,1.73],[0.55,1.89],[-0.73,1.71],[1.2,1.56],[0.6,1.5],[0.7,1.45],[0.65,1.55],[3.18,1.28],[-1.6,1.33],[-1.45,1.39],[-1.33,1.41],[1.49,1.0],[1.47,0.73],[1.44,0.56],[1.16,0.79],[1.16,0.7],[-3.47,0.38],[-3.62,-0.38],[2.77,-0.36],[2.98,-0.47],[-2.81,-0.64],[-3.05,-1.02],[-2.62,-0.97],[-2.41,-0.78],[-2.43,-0.67],[-2.33,-1.08],[-2.16,-0.2],[-2.05,-0.23],[-2.54,0.3],[-2.15,0.35],[-2.4,-0.29],[-2.42,-0.47],[-2.98,-1.71],[-2.86,-1.95],[-2.75,-2.28],[-2.62,-1.97],[-2.86,-2.63],[-3.05,-2.3],[-2.44,-1.68],[-2.18,-1.95],[-2.05,-2.0],[-2.08,-2.31],[-1.84,-1.79],[-1.6,-1.99],[-1.58,-2.12],[-1.55,-2.01],[-1.65,-2.34],[-1.62,-2.43],[-1.7,-2.6],[-1.5,-2.55],[-1.31,-2.36],[-1.28,-2.56],[-1.28,-1.9],[-1.09,-2.69],[-0.96,-2.86],[-0.81,-2.58],[-0.68,-2.67],[-0.54,-2.65],[-0.11,-2.67],[-1.1,-2.12],[-1.0,-2.28],[-0.8,-2.01],[-0.72,-2.17],[-0.45,-2.22],[-0.4,-2.03],[-0.3,-2.48],[0.29,-2.26],[0.48,-2.01],[0.79,-2.12],[0.72,-1.98],[1.13,-1.84],[1.51,-1.86],[1.85,-1.97],[1.7,-1.08],[1.68,-1.19],[2.0,-0.09],[2.07,-0.69],[1.93,0.07],[1.4,-0.47],[1.4,-0.72],[1.6,-0.25],[-3.32,-2.45],[-3.27,-2.56]
];

// ---------------- LAYOUT ----------------
const W = 751, H = 1169;
const SERIF = "'Liberation Serif','Times New Roman',Times,serif";
const SANS = "'Liberation Sans',Arial,Helvetica,sans-serif";
const panels = [
  {l:151.7, r:456.7, t:33.3, b:299.3, pts:pointsEcoli, letterY:29, r2x:470, r2y:293},
  {l:152.3, r:455.3, t:437.3, b:702.7, pts:pointsNeisseria, letterY:409, r2x:468.5, r2y:690},
  {l:147.5, r:446.4, t:826, b:1088.3, pts:pointsStrep, letterY:859, r2x:462.5, r2y:1079.5}
];

const svg = d3.select("body").append("svg").attr("width", W).attr("height", H)
  .attr("viewBox", `0 0 ${W} ${H}`);
svg.append("rect").attr("width", W).attr("height", H).attr("fill", "#fff");

function richText(g, x, y, segs, opts = {}) {
  const t = g.append("text").attr("x", x).attr("y", y)
    .attr("font-family", opts.family || SERIF)
    .attr("font-size", opts.size || 18.5)
    .attr("text-anchor", opts.anchor || "start")
    .attr("fill", "#111");
  segs.forEach(([s, it]) => t.append("tspan").attr("font-style", it ? "italic" : "normal").text(s));
  return t;
}

const scales = [];
panels.forEach((p, i) => {
  const x = d3.scaleLinear().domain(axisLimits).range([p.l, p.r]);
  const y = d3.scaleLinear().domain(axisLimits).range([p.b, p.t]);
  scales.push({x, y});
  const g = svg.append("g");

  // points
  g.append("g").selectAll("circle").data(p.pts).join("circle")
    .attr("cx", d => x(d[0])).attr("cy", d => y(d[1])).attr("r", 1.3).attr("fill", "#111");

  // regression line
  const fx = axisLimits;
  g.append("line")
    .attr("x1", x(fx[0])).attr("y1", y(fitIntercepts[i] + fitSlopes[i] * fx[0]))
    .attr("x2", x(fx[1])).attr("y2", y(fitIntercepts[i] + fitSlopes[i] * fx[1]))
    .attr("stroke", "#222").attr("stroke-width", 1.1);

  // frame
  g.append("rect").attr("x", p.l).attr("y", p.t).attr("width", p.r - p.l).attr("height", p.b - p.t)
    .attr("fill", "none").attr("stroke", "#222").attr("stroke-width", 1.4);

  const fmt = d => d < 0 ? "\u2212" + Math.abs(d) : String(d);
  // x axis
  const xa = g.append("g").attr("transform", `translate(0,${p.b})`)
    .call(d3.axisBottom(x).tickValues(tickValues).tickSize(7.5).tickFormat(fmt));
  xa.select(".domain").remove();
  xa.selectAll("line").attr("stroke", "#222").attr("stroke-width", 1.3);
  xa.selectAll("text").attr("y", 23.5).attr("dy", 0).attr("font-size", 17)
    .attr("font-family", SANS).attr("fill", "#111");
  // y axis
  const ya = g.append("g").attr("transform", `translate(${p.l},0)`)
    .call(d3.axisLeft(y).tickValues(tickValues).tickSize(7.5).tickFormat(fmt));
  ya.select(".domain").remove();
  ya.selectAll("line").attr("stroke", "#222").attr("stroke-width", 1.3);
  ya.selectAll("text").attr("x", 0).attr("dy", 0).attr("text-anchor", "middle")
    .attr("transform", "translate(-16,0) rotate(-90)")
    .attr("font-size", 17).attr("font-family", SANS).attr("fill", "#111");

  // axis titles
  richText(g, (p.l + p.r) / 2 + 4, p.b + 58, [[xTitles[i], true]], {size: 20.5, anchor: "middle"});
  richText(g, 0, 0, [[yTitles[i], true]], {size: 20.5, anchor: "middle"})
    .attr("transform", `translate(96,${(p.t + p.b) / 2}) rotate(-90)`);

  // panel letter
  const lt = g.append("text").attr("x", 12).attr("y", p.letterY)
    .attr("font-family", SANS).attr("font-size", 20).attr("fill", "#111");
  lt.append("tspan").text("(");
  lt.append("tspan").attr("font-weight", "bold").text(panelLetters[i]);
  lt.append("tspan").text(")");

  // r^2
  const rg = g.append("g").attr("font-family", SERIF).attr("fill", "#111");
  rg.append("text").attr("x", p.r2x).attr("y", p.r2y).attr("font-size", 34).attr("font-style", "italic").text("r");
  rg.append("text").attr("x", p.r2x + 15.5).attr("y", p.r2y - 10).attr("font-size", 15).text("2");
  rg.append("text").attr("x", p.r2x + 32.5).attr("y", p.r2y - 1).attr("font-size", 30).text("=");
  rg.append("text").attr("x", p.r2x + 54.5).attr("y", p.r2y).attr("font-size", 28).text(r2Labels[i]);
});

// ---------------- ANNOTATIONS ----------------
const ann = svg.append("g").attr("stroke", "#111").attr("stroke-width", 1.2).attr("fill", "none");
function leader(panel, fromPx, pt, gap = 5) {
  const {x, y} = scales[panel];
  const tx = x(pt[0]), ty = y(pt[1]);
  const dx = fromPx[0] - tx, dy = fromPx[1] - ty, L = Math.hypot(dx, dy);
  ann.append("line").attr("x1", fromPx[0]).attr("y1", fromPx[1])
    .attr("x2", tx + dx / L * gap).attr("y2", ty + dy / L * gap);
}
const txt = svg.append("g");

// Panel (a)
richText(txt, 255, 19.5, [["B1061 (", 0], ["dinI", 1], [")", 0]], {anchor: "middle"});
richText(txt, 421, 19.5, [["B1937 (", 0], ["flgE", 1], [")", 0]], {anchor: "middle"});
leader(0, [257.5, 23], [-0.40, 2.49], 6);
leader(0, [421, 22], [1.95, 2.54], 6);
{
  const {x, y} = scales[0];
  ann.append("rect").attr("x", x(hotRegionBox[0])).attr("y", y(hotRegionBox[3]))
    .attr("width", x(hotRegionBox[1]) - x(hotRegionBox[0]))
    .attr("height", y(hotRegionBox[2]) - y(hotRegionBox[3])).attr("stroke-width", 1.5);
  ann.append("path").attr("d", `M${x(3.82)},${y(hotRegionBox[3])} L488.4,102.7 L491.6,102.7`);
  ann.append("path").attr("d", "M496.5,66 H491.6 V140 H496.5");
}
richText(txt, 502.3, 86, [["The two hot regions in ", 0], ["E. coli", 1]]);
richText(txt, 502.3, 108.5, [["B4567 (", 0], ["yjjZ", 1], [")", 0]]);
richText(txt, 502.3, 130.5, [["B4383-4 (", 0], ["deoB. deoD", 1], [")", 0]]);

// Panel (c) Neisseria
richText(txt, 241, 409, [["NMB0853, 1846, 0889", 0]], {anchor: "middle"});
richText(txt, 226.5, 430, [["(hypothetical)", 0]], {anchor: "middle"});
[[-0.57, 2.98], [1.26, 2.92], [1.84, 3.05]].forEach(pt => leader(1, [301.5, 416], pt, 6));
richText(txt, 488.4, 401.5, [["NMB0886-8", 0]]);
ann.append("line").attr("x1", 478.5).attr("y1", 394).attr("x2", 375.5).attr("y2", 422.7);
[[1.72, 3.53], [2.26, 3.75], [2.49, 3.89]].forEach(pt => leader(1, [375.5, 422.7], pt, 4));
richText(txt, 471.4, 441.5, [["tbpA", 1]]);
leader(1, [462.7, 443.3], [2.48, 3.49], 4);
richText(txt, 475.3, 468, [["tbpB", 1]]);
leader(1, [468.6, 461.7], [2.86, 2.86], 4);
richText(txt, 471.4, 584, [["porB", 1]]);
leader(1, [464.7, 580], [3.05, 0.58], 4);
richText(txt, 158, 767, [["NMB0151, 0152", 0]], {anchor: "middle"});
richText(txt, 158, 788.5, [["(ribosomal)", 0]], {anchor: "middle"});
leader(1, [176, 747], [-1.95, -3.73], 4);
leader(1, [179, 746], [-1.70, -3.58], 4);

// Panel (c) Streptococcus
richText(txt, 151, 872, [["SP_0441 (ribosomal)", 0]]);
leader(2, [165, 876.7], [-3.47, 0.38], 4);
richText(txt, 480.4, 900.5, [["SP_0289 (dihydropteroate synthase)", 0]]);
leader(2, [467, 896], [3.18, 1.28], 4);
richText(txt, 475.6, 957, [["SP_1570 (hypothetical)", 0]]);
leader(2, [456.4, 957.3], [2.77, -0.36], 5);
richText(txt, 475.6, 979, [["SP_1571 (dihydrofolate reductase)", 0]]);
leader(2, [464.6, 960], [2.98, -0.47], 5);
richText(txt, 2.5, 1084, [["SP_1802", 0]]);
richText(txt, 2.5, 1104, [["(hypothetical)", 0]]);
leader(2, [81.4, 1054], [-3.62, -0.38], 3);
richText(txt, 135.3, 1140.5, [["SP_0215, 0217", 0]], {anchor: "middle"});
richText(txt, 141, 1161, [["(ribosomal)", 0]], {anchor: "middle"});
leader(2, [117.3, 1128.3], [-3.32, -2.45], 3);
leader(2, [138.9, 1130.7], [-3.27, -2.56], 3);
</script>
</body></html>
